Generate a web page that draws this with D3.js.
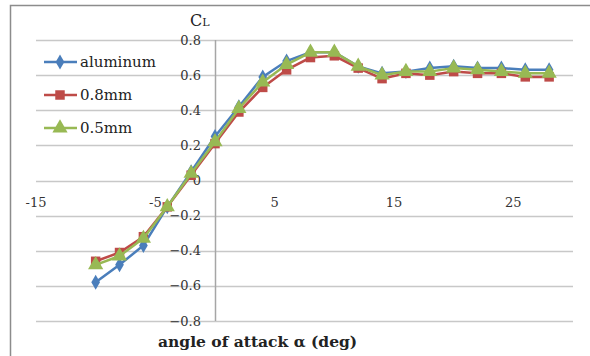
<!DOCTYPE html>
<html>
<head>
<meta charset="utf-8">
<script src="https://cdn.jsdelivr.net/npm/d3@7"></script>
<style>
  body { margin: 0; background: #fff; }
  svg { display: block; font-family: "DejaVu Serif", "Liberation Serif", serif; }
</style>
</head>
<body>
<div id="chart"></div>
<script>
const angles = [-10, -8, -6, -4, -2, 0, 2, 4, 6, 8, 10, 12, 14, 16, 18, 20, 22, 24, 26, 28];
const aluminum = [-0.58, -0.48, -0.37, -0.15, 0.05, 0.25, 0.42, 0.59, 0.68, 0.73, 0.73, 0.65, 0.61, 0.62, 0.64, 0.65, 0.64, 0.64, 0.63, 0.63];
const mm08 = [-0.46, -0.41, -0.32, -0.15, 0.03, 0.21, 0.39, 0.53, 0.63, 0.70, 0.71, 0.64, 0.58, 0.61, 0.60, 0.62, 0.61, 0.61, 0.59, 0.59];
const mm05 = [-0.48, -0.43, -0.33, -0.15, 0.04, 0.22, 0.41, 0.56, 0.66, 0.73, 0.73, 0.65, 0.60, 0.62, 0.62, 0.64, 0.63, 0.62, 0.61, 0.61];
const seriesNames = ["aluminum", "0.8mm", "0.5mm"];
const xTicks = [-15, -5, 5, 15, 25];
const yTicks = [-0.8, -0.6, -0.4, -0.2, 0, 0.2, 0.4, 0.6, 0.8];

const width = 590, height = 356;
const colors = ["#4a7ebb", "#be4b48", "#98b954"];
const shapes = [d3.symbolDiamond, d3.symbolSquare, d3.symbolTriangle];
const sizes = [65, 90, 100];

const svg = d3.select("#chart").append("svg")
  .attr("width", width)
  .attr("height", height);

// outer chart border
svg.append("rect")
  .attr("x", 10.5).attr("y", 5.5)
  .attr("width", 585).attr("height", 360)
  .attr("fill", "none")
  .attr("stroke", "#8c8c8c")
  .attr("stroke-width", 1.5);

const x = d3.scaleLinear().domain([-15, 30]).range([36, 573]);
const y = d3.scaleLinear().domain([-0.8, 0.8]).range([321, 40]);

// horizontal gridlines
svg.append("g")
  .selectAll("line")
  .data(yTicks)
  .enter()
  .append("line")
  .attr("x1", x(-15))
  .attr("x2", x(30))
  .attr("y1", d => Math.round(y(d)) + 0.5)
  .attr("y2", d => Math.round(y(d)) + 0.5)
  .attr("stroke", "#c8c8c8")
  .attr("stroke-width", 1.5);

// vertical axis at x = 0
svg.append("line")
  .attr("x1", Math.round(x(0)) + 0.5)
  .attr("x2", Math.round(x(0)) + 0.5)
  .attr("y1", y(0.8))
  .attr("y2", y(-0.8))
  .attr("stroke", "#a6a6a6")
  .attr("stroke-width", 1.5);

// y tick labels
svg.append("g")
  .selectAll("text")
  .data(yTicks)
  .enter()
  .append("text")
  .attr("x", x(0) - 14)
  .attr("y", d => y(d))
  .attr("dy", "0.35em")
  .attr("text-anchor", "end")
  .attr("font-size", 13)
  .attr("fill", "#333")
  .text(d => d === 0 ? "0" : d3.format(".1f")(d));

// x tick labels
svg.append("g")
  .selectAll("text")
  .data(xTicks)
  .enter()
  .append("text")
  .attr("x", d => x(d))
  .attr("y", y(0) + 26)
  .attr("text-anchor", "middle")
  .attr("font-size", 13)
  .attr("fill", "#333")
  .text(d => d);

// axis titles
const cl = svg.append("text")
  .attr("x", 190)
  .attr("y", 26)
  .attr("font-size", 16)
  .attr("fill", "#222");
cl.append("tspan").text("C");
cl.append("tspan").attr("font-size", 11).text("L");

svg.append("text")
  .attr("x", 158)
  .attr("y", 347)
  .attr("font-size", 15.5)
  .attr("font-weight", "bold")
  .attr("fill", "#222")
  .text("angle of attack α (deg)");

// series
const allSeries = [aluminum, mm08, mm05];
const line = d3.line()
  .x((d, i) => x(angles[i]))
  .y(d => y(d));

allSeries.forEach((vals, s) => {
  const g = svg.append("g");
  g.append("path")
    .datum(vals)
    .attr("d", line)
    .attr("fill", "none")
    .attr("stroke", colors[s])
    .attr("stroke-width", 2.5);
  g.selectAll("path.pt")
    .data(vals)
    .enter()
    .append("path")
    .attr("class", "pt")
    .attr("transform", (d, i) => "translate(" + x(angles[i]) + "," + y(d) + ")")
    .attr("d", d3.symbol().type(shapes[s]).size(sizes[s]))
    .attr("fill", colors[s]);
});

// legend
const legend = svg.append("g");
seriesNames.forEach((name, s) => {
  const ly = 62 + s * 33;
  legend.append("line")
    .attr("x1", 44).attr("x2", 77)
    .attr("y1", ly).attr("y2", ly)
    .attr("stroke", colors[s])
    .attr("stroke-width", 2.5);
  legend.append("path")
    .attr("transform", "translate(60," + ly + ")")
    .attr("d", d3.symbol().type(shapes[s]).size(sizes[s]))
    .attr("fill", colors[s]);
  legend.append("text")
    .attr("x", 80)
    .attr("y", ly)
    .attr("dy", "0.35em")
    .attr("font-size", 15)
    .attr("fill", "#222")
    .text(name);
});
</script>
</body>
</html>
